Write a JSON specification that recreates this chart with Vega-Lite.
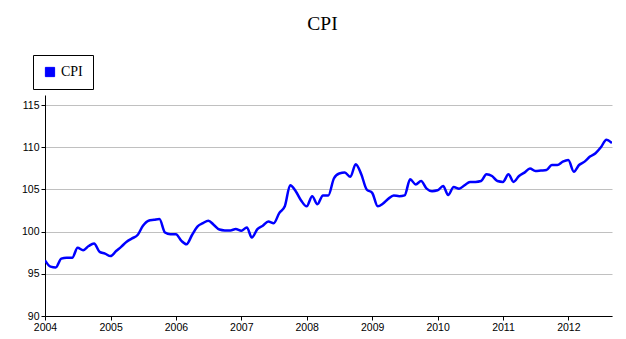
{
  "$schema": "https://vega.github.io/schema/vega-lite/v6.json",
  "autosize": {"type": "none"},
  "padding": {"left": 45, "top": 95, "right": 14, "bottom": 23},
  "width": 567,
  "height": 221,
  "background": "white",
  "title": {
    "text": "CPI",
    "font": "Liberation Serif",
    "fontSize": 19.5,
    "fontWeight": "normal",
    "color": "black",
    "anchor": "middle",
    "frame": "group",
    "dx": -6,
    "offset": 20
  },
  "config": {
    "view": {"stroke": null},
    "axis": {
      "labelFont": "Liberation Sans",
      "labelFontSize": 10.5,
      "labelColor": "black",
      "domainColor": "black",
      "tickColor": "black",
      "tickSize": 4,
      "titleFont": "Liberation Sans"
    }
  },
  "data": {
    "values": [
      {"date": "2004-01-01", "cpi": 96.6}, {"date": "2004-02-01", "cpi": 95.85}, {"date": "2004-03-01", "cpi": 95.75},
      {"date": "2004-04-01", "cpi": 96.8}, {"date": "2004-05-01", "cpi": 96.9}, {"date": "2004-06-01", "cpi": 96.9},
      {"date": "2004-07-01", "cpi": 98.1}, {"date": "2004-08-01", "cpi": 97.8}, {"date": "2004-09-01", "cpi": 98.3},
      {"date": "2004-10-01", "cpi": 98.6}, {"date": "2004-11-01", "cpi": 97.6}, {"date": "2004-12-01", "cpi": 97.4},
      {"date": "2005-01-01", "cpi": 97.1}, {"date": "2005-02-01", "cpi": 97.7}, {"date": "2005-03-01", "cpi": 98.2},
      {"date": "2005-04-01", "cpi": 98.8}, {"date": "2005-05-01", "cpi": 99.2}, {"date": "2005-06-01", "cpi": 99.6},
      {"date": "2005-07-01", "cpi": 100.7}, {"date": "2005-08-01", "cpi": 101.3}, {"date": "2005-09-01", "cpi": 101.4},
      {"date": "2005-10-01", "cpi": 101.5}, {"date": "2005-11-01", "cpi": 99.9}, {"date": "2005-12-01", "cpi": 99.7},
      {"date": "2006-01-01", "cpi": 99.7}, {"date": "2006-02-01", "cpi": 98.9}, {"date": "2006-03-01", "cpi": 98.5},
      {"date": "2006-04-01", "cpi": 99.6}, {"date": "2006-05-01", "cpi": 100.6}, {"date": "2006-06-01", "cpi": 101.0},
      {"date": "2006-07-01", "cpi": 101.3}, {"date": "2006-08-01", "cpi": 100.8}, {"date": "2006-09-01", "cpi": 100.25},
      {"date": "2006-10-01", "cpi": 100.15}, {"date": "2006-11-01", "cpi": 100.15}, {"date": "2006-12-01", "cpi": 100.3},
      {"date": "2007-01-01", "cpi": 100.1}, {"date": "2007-02-01", "cpi": 100.5}, {"date": "2007-03-01", "cpi": 99.3},
      {"date": "2007-04-01", "cpi": 100.3}, {"date": "2007-05-01", "cpi": 100.7}, {"date": "2007-06-01", "cpi": 101.2},
      {"date": "2007-07-01", "cpi": 101.0}, {"date": "2007-08-01", "cpi": 102.2}, {"date": "2007-09-01", "cpi": 103.0},
      {"date": "2007-10-01", "cpi": 105.5}, {"date": "2007-11-01", "cpi": 104.8}, {"date": "2007-12-01", "cpi": 103.7},
      {"date": "2008-01-01", "cpi": 103.0}, {"date": "2008-02-01", "cpi": 104.2}, {"date": "2008-03-01", "cpi": 103.25},
      {"date": "2008-04-01", "cpi": 104.3}, {"date": "2008-05-01", "cpi": 104.3}, {"date": "2008-06-01", "cpi": 106.3},
      {"date": "2008-07-01", "cpi": 106.9}, {"date": "2008-08-01", "cpi": 107.0}, {"date": "2008-09-01", "cpi": 106.5},
      {"date": "2008-10-01", "cpi": 108.0}, {"date": "2008-11-01", "cpi": 106.8}, {"date": "2008-12-01", "cpi": 105.0},
      {"date": "2009-01-01", "cpi": 104.6}, {"date": "2009-02-01", "cpi": 103.0}, {"date": "2009-03-01", "cpi": 103.3},
      {"date": "2009-04-01", "cpi": 103.9}, {"date": "2009-05-01", "cpi": 104.3}, {"date": "2009-06-01", "cpi": 104.2},
      {"date": "2009-07-01", "cpi": 104.3}, {"date": "2009-08-01", "cpi": 106.2}, {"date": "2009-09-01", "cpi": 105.6},
      {"date": "2009-10-01", "cpi": 106.0}, {"date": "2009-11-01", "cpi": 105.1}, {"date": "2009-12-01", "cpi": 104.8},
      {"date": "2010-01-01", "cpi": 104.9}, {"date": "2010-02-01", "cpi": 105.4}, {"date": "2010-03-01", "cpi": 104.35},
      {"date": "2010-04-01", "cpi": 105.3}, {"date": "2010-05-01", "cpi": 105.1}, {"date": "2010-06-01", "cpi": 105.5},
      {"date": "2010-07-01", "cpi": 105.9}, {"date": "2010-08-01", "cpi": 105.9}, {"date": "2010-09-01", "cpi": 106.0},
      {"date": "2010-10-01", "cpi": 106.8}, {"date": "2010-11-01", "cpi": 106.6}, {"date": "2010-12-01", "cpi": 106.0},
      {"date": "2011-01-01", "cpi": 105.9}, {"date": "2011-02-01", "cpi": 106.8}, {"date": "2011-03-01", "cpi": 105.9},
      {"date": "2011-04-01", "cpi": 106.6}, {"date": "2011-05-01", "cpi": 107.0}, {"date": "2011-06-01", "cpi": 107.5},
      {"date": "2011-07-01", "cpi": 107.2}, {"date": "2011-08-01", "cpi": 107.25}, {"date": "2011-09-01", "cpi": 107.3},
      {"date": "2011-10-01", "cpi": 107.9}, {"date": "2011-11-01", "cpi": 107.9}, {"date": "2011-12-01", "cpi": 108.3},
      {"date": "2012-01-01", "cpi": 108.5}, {"date": "2012-02-01", "cpi": 107.1}, {"date": "2012-03-01", "cpi": 107.9},
      {"date": "2012-04-01", "cpi": 108.3}, {"date": "2012-05-01", "cpi": 108.9}, {"date": "2012-06-01", "cpi": 109.3},
      {"date": "2012-07-01", "cpi": 110.0}, {"date": "2012-08-01", "cpi": 110.9}, {"date": "2012-09-01", "cpi": 110.5}
    ]
  },
  "mark": {"type": "line", "interpolate": "monotone", "strokeWidth": 2.5, "clip": true},
  "encoding": {
    "x": {
      "field": "date",
      "type": "temporal",
      "title": null,
      "scale": {"domain": ["2004-01-01", "2012-09-01"], "nice": false},
      "axis": {
        "format": "%Y",
        "tickCount": "year",
        "grid": false,
        "labelAngle": 0,
        "labelAlign": "center",
        "labelPadding": 2
      }
    },
    "y": {
      "field": "cpi",
      "type": "quantitative",
      "title": null,
      "scale": {"domain": [90, 116.2], "nice": false, "zero": false},
      "axis": {
        "values": [90, 95, 100, 105, 110, 115],
        "grid": true,
        "gridColor": "#c0c0c0",
        "gridWidth": 1,
        "gridOpacity": 1,
        "labelPadding": 2
      }
    },
    "color": {
      "datum": "CPI",
      "type": "nominal",
      "scale": {"range": ["#0000ff"]},
      "legend": {
        "title": null,
        "orient": "none",
        "legendX": -12,
        "legendY": -40,
        "padding": 10,
        "strokeColor": "black",
        "fillColor": "white",
        "symbolType": "square",
        "symbolSize": 85,
        "labelFont": "Liberation Serif",
        "labelFontSize": 14,
        "labelColor": "black",
        "labelOffset": 4,
        "encode": {
          "symbols": {
            "update": {
              "fill": {"value": "#0000ff"},
              "stroke": {"value": "black"},
              "strokeWidth": {"value": 1},
              "opacity": {"value": 1}
            }
          }
        }
      }
    }
  }
}
